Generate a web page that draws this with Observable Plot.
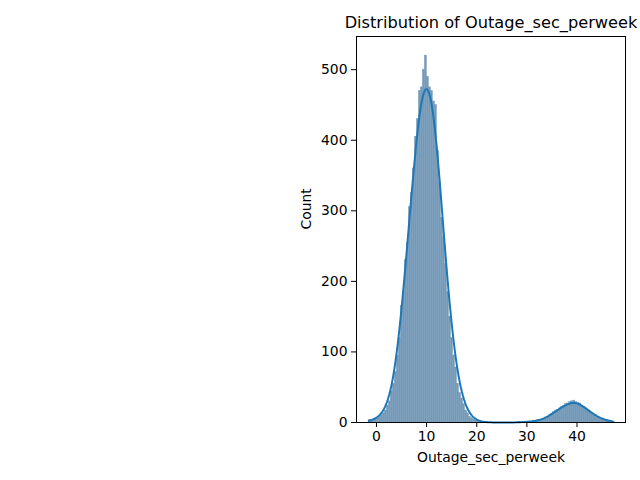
<!DOCTYPE html>
<html><head><meta charset="utf-8">
<script src="https://cdn.jsdelivr.net/npm/d3@7"></script>
<script src="https://cdn.jsdelivr.net/npm/@observablehq/plot@0.6"></script>
<style>body{margin:0;background:#fff}</style>
</head><body><div id="chart"></div>
<script>
const title = "Distribution of Outage_sec_perweek";
const xLabel = "Outage_sec_perweek";
const yLabel = "Count";
const binStart = -1.54;
const binWidth = 0.4;
const counts = [
  4,3,4,5,6,8,10,13,17,24,
  30,45,55,72,95,120,165,185,230,255,
  305,325,360,405,430,470,475,500,520,490,
  475,470,455,450,385,340,290,262,225,185,
  150,120,95,78,55,42,34,26,17,13,
  8,6,4,3,2,1,1,
  0,1,0,0,0,0,0,0,0,0,0,0,0,0,0,0,0,0,1,0,1,
  1,1,1,1,2,2,3,3,4,5,7,8,10,12,15,17,18,20,22,24,26,27,29,30,31,29,28,27,24,22,19,17,15,13,11,9,7,6,5,4,3,2,2,1
];
const xTicks = [0,10,20,30,40];
const yTicks = [0,100,200,300,400,500];

const bins = counts.map((c,i)=>({x1: binStart+i*binWidth, x2: binStart+(i+1)*binWidth, count:c}));
const n = d3.sum(counts);
const centers = bins.map(b => (b.x1+b.x2)/2);
const mean = d3.sum(counts.map((c,i)=> c*centers[i]))/n;
const variance = d3.sum(counts.map((c,i)=> c*(centers[i]-mean)**2))/(n-1);
const bw = Math.sqrt(variance)*Math.pow(n,-0.2);
const lo = binStart, hi = binStart+counts.length*binWidth;
const grid = d3.range(240).map(k => lo + (hi-lo)*k/239);
const kde = grid.map(x => ({x, y: d3.sum(counts.map((c,i)=> c*Math.exp(-0.5*((x-centers[i])/bw)**2)))/(bw*Math.sqrt(2*Math.PI))*binWidth}));

const chart = Plot.plot({
  width:640, height:480, marginLeft:356, marginRight:15, marginTop:36, marginBottom:58,
  style:{fontFamily:"'DejaVu Sans', sans-serif", fontSize:"13.9px", background:"white", color:"black"},
  x:{domain:[-3.98,49.67]}, y:{domain:[0,547]},
  marks:[
    Plot.rectY(bins,{x1:"x1",x2:"x2",y:"count",fill:"#7499b8", stroke:"#7499b8", strokeWidth:0.4, inset:0}),
    Plot.line(kde,{x:"x",y:"y",stroke:"#1f77b4",strokeWidth:2}),
    Plot.frame({stroke:"black", strokeWidth:1}),
    Plot.axisX({ticks:xTicks, tickSize:5, tickPadding:4, label:null}),
    Plot.axisY({ticks:yTicks, tickSize:5, tickPadding:4, label:null}),
    Plot.text([xLabel], {frameAnchor:"bottom", lineAnchor:"middle", dy:35}),
    Plot.text([yLabel], {frameAnchor:"left", dx:-50, rotate:-90}),
    Plot.text([title], {frameAnchor:"top", lineAnchor:"middle", dy:-14, fontSize:16.2})
  ]
});
document.getElementById("chart").appendChild(chart);
</script>
</body></html>
